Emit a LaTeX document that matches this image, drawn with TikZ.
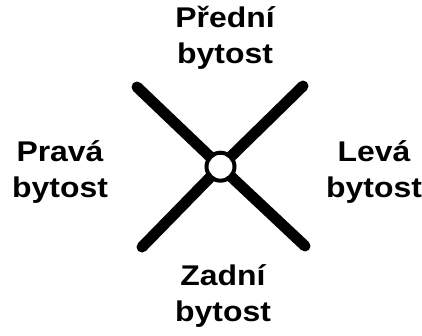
\documentclass[tikz,border=0pt]{standalone}
\usepackage{fontspec}
\setmainfont{Liberation Sans}[FakeStretch=1.12]
\begin{document}
\begin{tikzpicture}[x=1pt,y=-1pt,
  lbl/.style={font=\bfseries\fontsize{28.5}{36}\selectfont, align=center, inner sep=0pt, anchor=base},
  arm/.style={line width=11pt, line cap=round},
  hub/.style={circle, draw, line width=4pt, fill=white, minimum size=28pt, inner sep=0pt}]
\useasboundingbox (0,0) rectangle (422,335);
\coordinate (tl) at (137,87);
\coordinate (tr) at (303,86);
\coordinate (bl) at (142,247);
\coordinate (br) at (305,246);
\coordinate (c) at (220.5,166.7);
\draw[arm] (tl) -- (c) -- (br);
\draw[arm] (tr) -- (c) -- (bl);
\node[hub] (h) at (c) {};
\node[lbl] (front) at (225,63.3) {Přední\\bytost};
\node[lbl] (right) at (60,197.7) {Pravá\\bytost};
\node[lbl] (left) at (374,197.7) {Levá\\bytost};
\node[lbl] (back) at (223,321.5) {Zadní\\bytost};
\end{tikzpicture}
\end{document}
